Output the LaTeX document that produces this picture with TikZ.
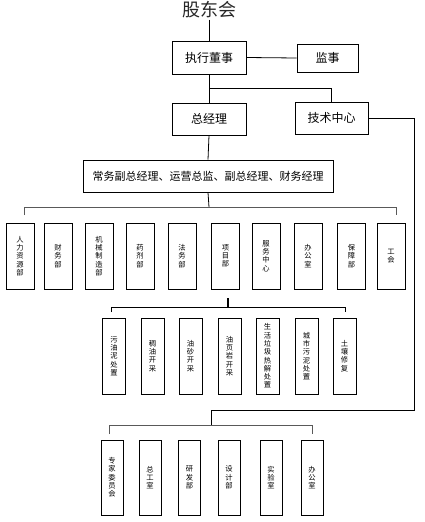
\documentclass[tikz,border=0pt]{standalone}
\usepackage{fontspec}
\newfontfamily\cjk{Noto Sans CJK SC}
\begin{document}
\begin{tikzpicture}[x=1pt,y=-1pt,
  box/.style={draw, line width=0.8pt, inner sep=0pt, font=\cjk\fontsize{12}{14}\selectfont},
  vbox/.style={draw, line width=0.8pt, inner sep=0pt, align=center, font=\cjk\fontsize{7.3}{8.3}\selectfont},
  link/.style={line width=0.8pt},
  brk/.style={line width=0.8pt, gray!70!black}]
\useasboundingbox (0,0) rectangle (424,522);
% top
\node[inner sep=1pt, font=\cjk\fontsize{18}{20}\selectfont, text=black!85] (gd) at (209,10) {股东会};
\node[box, minimum width=74pt, minimum height=33pt] (zx) at (209,57.5) {执行董事};
\node[box, minimum width=61pt, minimum height=28pt] (js) at (327.5,58) {监事};
\node[box, minimum width=74pt, minimum height=32pt] (zjl) at (209,119) {总经理};
\node[box, minimum width=73pt, minimum height=32pt] (jszx) at (331.5,118) {技术中心};
\node[box, minimum width=250pt, minimum height=32pt, font=\cjk\fontsize{11}{12}\selectfont] (fz) at (208,176) {常务副总经理、运营总监、副总经理、财务经理};
\draw[link] (gd.south) -- (zx.north);
\draw[link] (zx.east) -- (js.west);
\draw[link] (zx.south) -- (zjl.north);
\coordinate (b1) at (209,88);
\draw[link] (b1) -| (jszx.north);
\draw[link] (zjl.south) -- (fz.north);
% row 1
\foreach \n/\x/\t in {a1/20/人\\力\\资\\源\\部, a2/58/财\\务\\部, a3/99/机\\械\\制\\造\\部, a4/140/药\\剂\\部, a5/182/法\\务\\部, a6/225.5/项\\目\\部, a7/266/服\\务\\中\\心, a8/308/办\\公\\室, a9/351.5/保\\障\\部, a10/391/工\\会}
  \node[vbox, minimum width=28pt, minimum height=66pt] (\n) at (\x,256) {\t};
\coordinate (r1) at (209,207);
\coordinate (r1l) at (24,207);
\coordinate (r1r) at (396,207);
\coordinate (r1ld) at (24,215);
\coordinate (r1rd) at (396,215);
\draw[link] (fz.south) -- (r1);
\draw[brk] (r1ld) -- (r1l) -- (r1r) -- (r1rd);
% row 2
\foreach \n/\x/\t in {b1/114/污\\油\\泥\\处\\置, b2/152.5/稠\\油\\开\\采, b3/190.5/油\\砂\\开\\采, b4/229.5/油\\页\\岩\\开\\采, b5/267.5/生\\活\\垃\\圾\\热\\解\\处\\置, b6/306.5/城\\市\\污\\泥\\处\\置, b7/344.5/土\\壤\\修\\复}
  \node[vbox, minimum width=23pt, minimum height=76pt] (\n) at (\x,356) {\t};
\coordinate (r2t) at (228,298);
\coordinate (r2) at (228,307);
\coordinate (r2l) at (111,307);
\coordinate (r2r) at (345,307);
\coordinate (r2ld) at (111,312);
\coordinate (r2rd) at (345,312);
\draw[line width=1.2pt] (r2t) -- (r2);
\draw[link] (r2ld) -- (r2l) -- (r2r) -- (r2rd);
% row 3
\foreach \n/\x/\t in {c1/112/专\\家\\委\\员\\会, c2/150/总\\工\\室, c3/189.5/研\\发\\部, c4/229/设\\计\\部, c5/271/实\\验\\室, c6/312/办\\公\\室}
  \node[vbox, minimum width=22pt, minimum height=75pt] (\n) at (\x,477.5) {\t};
\coordinate (rc1) at (414,118);
\coordinate (rc2) at (414,410);
\coordinate (rc3) at (211,410);
\coordinate (r3) at (211,425);
\coordinate (r3l) at (109,425);
\coordinate (r3r) at (312,425);
\coordinate (r3ld) at (109,434);
\coordinate (r3rd) at (312,434);
\draw[link] (jszx.east) -- (rc1) -- (rc2) -- (rc3) -- (r3);
\draw[brk] (r3ld) -- (r3l) -- (r3r) -- (r3rd);
\end{tikzpicture}
\end{document}
